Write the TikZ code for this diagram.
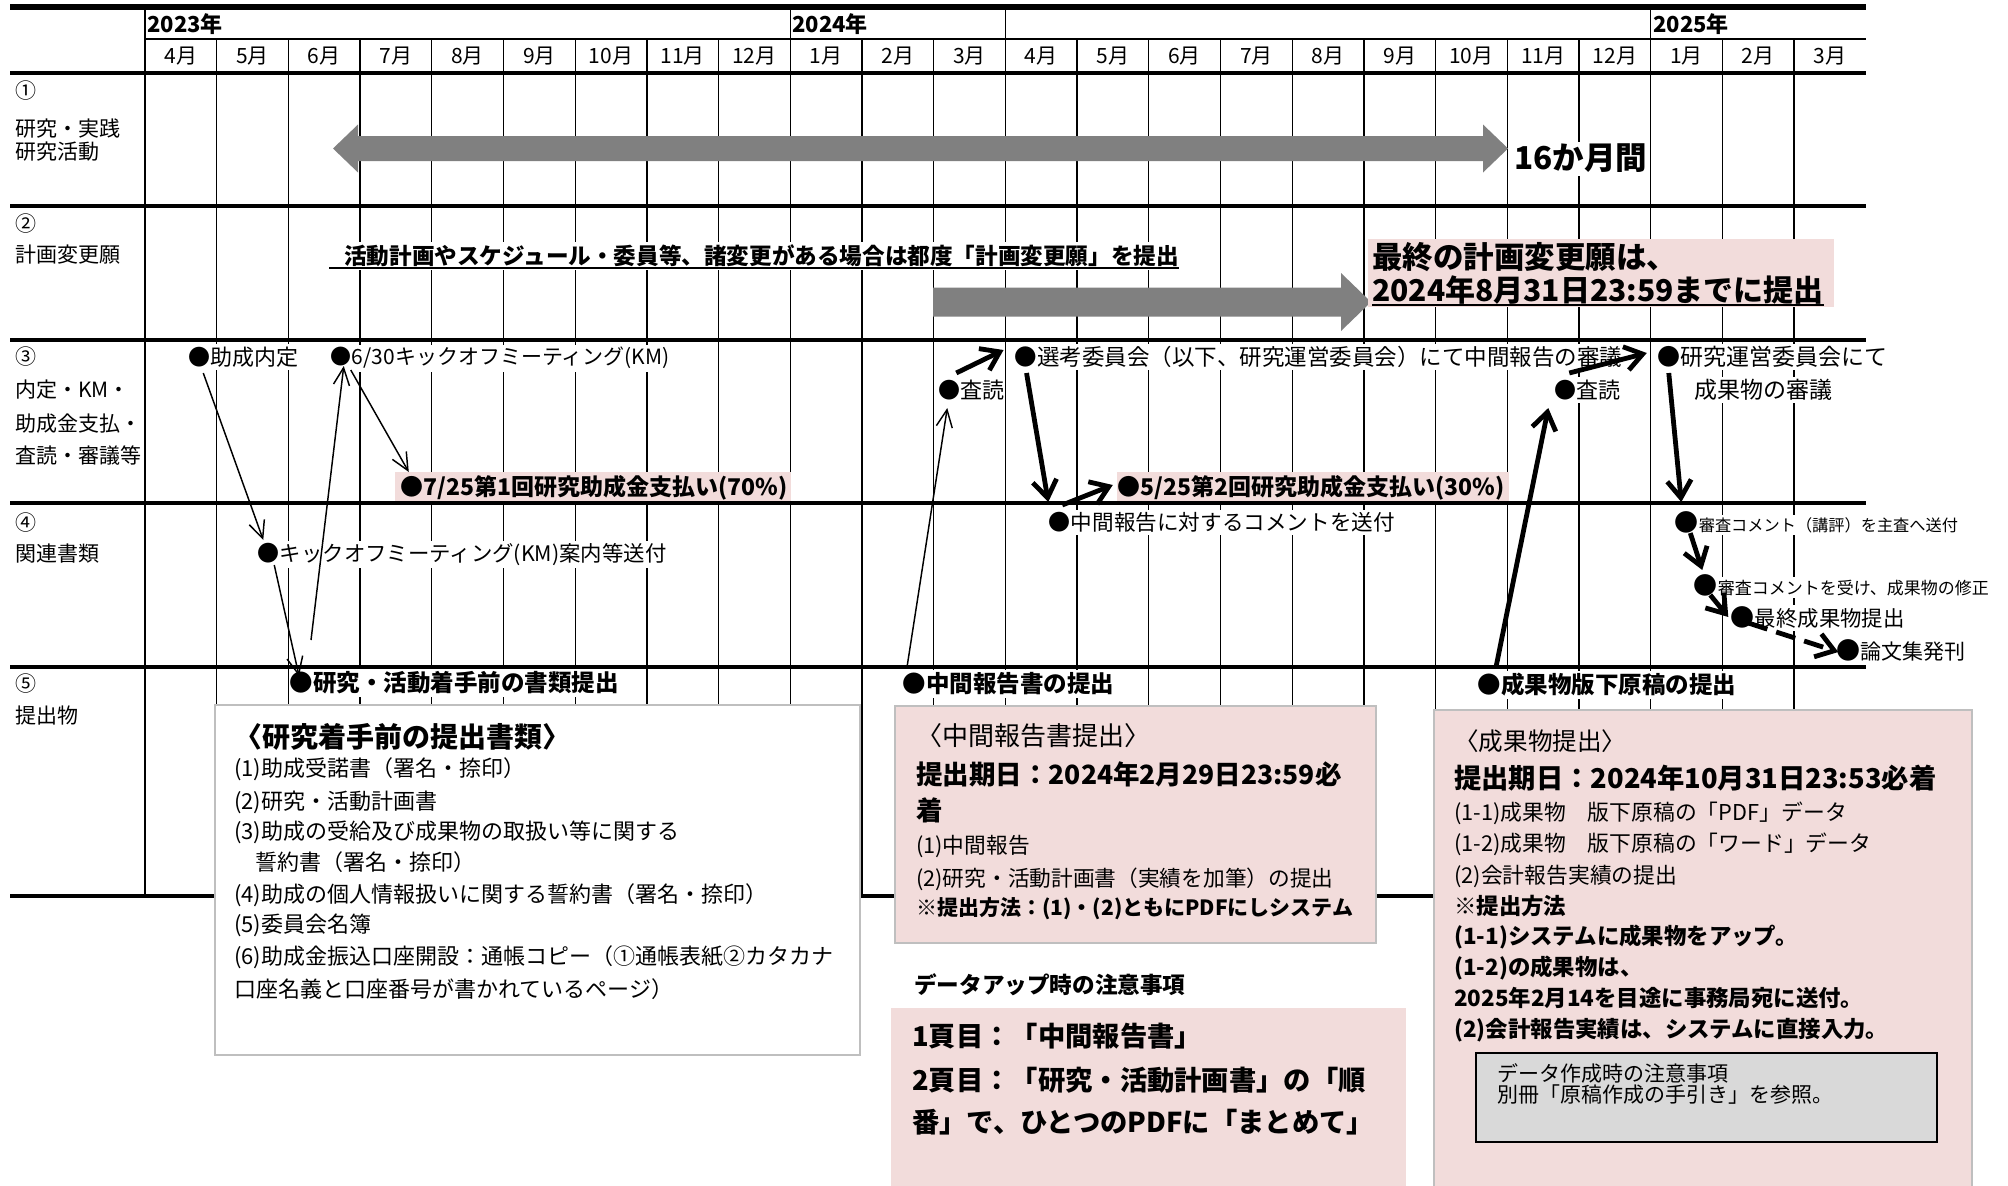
\documentclass[tikz,border=0pt]{standalone}
\usepackage{fontspec}
\setmainfont{Noto Sans CJK JP}
\usetikzlibrary{calc,arrows.meta}
\definecolor{pinkbg}{HTML}{F2DCDB}
\definecolor{boxgray}{HTML}{BFBFBF}
\definecolor{arrgray}{HTML}{808080}
\definecolor{notegray}{HTML}{D9D9D9}
\newcommand\fsz[1]{\fontsize{\fpeval{#1*0.75}}{\fpeval{#1*0.9}}\selectfont}
\tikzset{
 tn/.style={inner sep=0pt, anchor=base west},
 wf/.style={fill=white, inner ysep=2pt},
 thinarr/.style={line width=1.1pt, -{Straight Barb[length=13pt,width=12pt]}},
 thickarr/.style={line width=3.6pt, -{Straight Barb[length=13pt,width=18pt]}},
 rowline/.style={line width=3pt},
 colline/.style={line width=1pt},
}
\newcommand\tx[6][]{\node[tn,#1] (#2) at (#3,{#4+0.38*#5}) {\fsz{#5}#6};}
\newcommand\bul[7][]{%
 \node[tn,#1] (d#2) at (#3,{#4+0.38*#5}) {\fsz{#5}●};
 \node[tn,#1] (t#2) at (d#2.base east) {\fsz{#6}#7};}
\begin{document}
\begin{tikzpicture}[x=0.75pt,y=-0.75pt]
\clip (0,0) rectangle (2008,1185);
\fill[white] (0,0) rectangle (2008,1185);
% grid
\foreach \i in {1,...,8,10,11,13,14,...,20,22,23}
  \draw[colline] ({145+71.7*\i},39) -- ({145+71.7*\i},896);
\foreach \i in {0,9,12,21}
  \draw[colline] ({145+71.7*\i},7) -- ({145+71.7*\i},896);
\draw[line width=4.5pt] (10,7) -- (1866,7);
\draw[line width=0.9pt] (145,39) -- (1866,39);
\draw[line width=3.6pt] (10,73) -- (1866,73);
\foreach \yy in {206,340,503,667,896}
  \draw[rowline] (10,\yy) -- (1866,\yy);
% header
\tx[font=\bfseries]{y23}{147}{24}{22}{2023年}
\tx[font=\bfseries]{y24}{792}{24}{22}{2024年}
\tx[font=\bfseries]{y25}{1653}{24}{22}{2025年}
\foreach \m [count=\i from 0] in {4,5,6,7,8,9,10,11,12,1,2,3,4,5,6,7,8,9,10,11,12,1,2,3}
  \node[inner sep=0pt,anchor=base] (m\i) at ({145+71.7*(\i+0.5)},{56+0.38*21}) {\fsz{21}\m 月};
% row labels
\tx{l1a}{15}{91}{21}{①}
\tx{l1b}{15}{129}{21}{研究・実践}
\tx{l1c}{15}{152}{21}{研究活動}
\tx{l2a}{15}{224}{21}{②}
\tx{l2b}{15}{255}{21}{計画変更願}
\tx{l3a}{15}{357}{21}{③}
\tx{l3b}{15}{390}{21}{内定・KM・}
\tx{l3c}{15}{424}{21}{助成金支払・}
\tx{l3d}{15}{456}{21}{査読・審議等}
\tx{l4a}{15}{523}{21}{④}
\tx{l4b}{15}{554}{21}{関連書類}
\tx{l5a}{15}{684}{21}{⑤}
\tx{l5b}{15}{716}{21}{提出物}
% row 1
\fill[arrgray] (333,148.5) -- (358,124.5) -- (358,136) -- (1483,136) -- (1483,124.5) -- (1508,148.5) -- (1483,172.5) -- (1483,161) -- (358,161) -- (358,172.5) -- cycle;
\tx[font=\bfseries,wf]{r1}{1514}{158}{31.5}{16か月間}
% row 2
\fill[arrgray] (933,287.5) -- (1341,287.5) -- (1341,273) -- (1371,302) -- (1341,331) -- (1341,316.5) -- (933,316.5) -- cycle;
\tx[font=\bfseries,wf]{r2}{344}{256}{22.6}{活動計画やスケジュール・委員等、諸変更がある場合は都度「計画変更願」を提出}
\draw[line width=1.4pt] ($(r2.base west)+(-15,3)$) -- ($(r2.base east)+(0,3)$);
\fill[pinkbg] (1368,239) rectangle (1834,307);
\tx[font=\bfseries]{f1}{1372}{257}{30.5}{最終の計画変更願は、}
\tx[font=\bfseries]{f2}{1372}{290}{30}{2024年8月31日23:59までに提出}
\draw[line width=1.6pt] ($(f2.base west)+(0,4)$) -- ($(f2.base east)+(0,4)$);
% row 3
\bul[wf]{naitei}{188}{357}{22}{22}{助成内定}
\bul[wf]{km}{330}{357}{21}{21}{6/30キックオフミーティング(KM)}
\fill[pinkbg] (395,472) rectangle (791,501);
\bul[font=\bfseries]{pay1}{400}{487}{23}{23}{7/25第1回研究助成金支払い(70\%)}
\bul[wf]{sa1}{938}{390}{22}{22}{査読}
\bul[wf]{senkou}{1014}{357}{22.5}{22.5}{選考委員会（以下、研究運営委員会）にて中間報告の審議}
\fill[pinkbg] (1117,472) rectangle (1509,501);
\bul[font=\bfseries]{pay2}{1117}{487}{23}{23}{5/25第2回研究助成金支払い(30\%)}
\bul[wf]{sa2}{1554}{390}{22}{22}{査読}
\bul[wf]{unei}{1657}{357}{23}{23}{研究運営委員会にて}
\tx[wf]{unei2}{1694}{390}{23}{成果物の審議}
% row 4
\bul[wf]{kman}{257}{553}{22}{21.4}{キックオフミーティング(KM)案内等送付}
\bul[wf]{comment}{1048}{522}{22}{21.6}{中間報告に対するコメントを送付}
\bul[wf]{shinsa}{1674}{522}{24}{16.2}{審査コメント（講評）を主査へ送付}
\bul[wf]{shusei}{1693}{585}{24}{17}{審査コメントを受け、成果物の修正}
\bul[wf]{final}{1730}{617}{24}{21.4}{最終成果物提出}
\bul[wf]{ronbun}{1836}{650}{24}{21}{論文集発刊}
% row 5
\bul[wf,font=\bfseries]{chakushu}{289}{683}{23.5}{23.5}{研究・活動着手前の書類提出}
\bul[wf,font=\bfseries]{chukan}{902}{684}{23.5}{23.5}{中間報告書の提出}
\bul[wf,font=\bfseries]{seika}{1477}{685}{23.5}{23.5}{成果物版下原稿の提出}
% boxes
\draw[boxgray,line width=1.5pt,fill=white] (215,705) rectangle (860,1055);
\draw[boxgray,line width=1.5pt,fill=pinkbg] (895,706) rectangle (1376,943);
\fill[pinkbg] (891,1008) rectangle (1406,1190);
\draw[boxgray,line width=1.5pt,fill=pinkbg] (1434,710) rectangle (1972,1195);
\draw[black,line width=1.2pt,fill=notegray] (1476,1053) rectangle (1937,1142);
% left box
\tx[font=\bfseries]{lb0}{234}{737}{28}{〈研究着手前の提出書類〉}
\tx{lb1}{234}{768}{22}{(1)助成受諾書（署名・捺印）}
\tx{lb2}{234}{801}{22}{(2)研究・活動計画書}
\tx{lb3}{234}{831}{22}{(3)助成の受給及び成果物の取扱い等に関する}
\tx{lb4}{255}{862}{22}{誓約書（署名・捺印）}
\tx{lb5}{234}{894}{22}{(4)助成の個人情報扱いに関する誓約書（署名・捺印）}
\tx{lb6}{234}{924}{22}{(5)委員会名簿}
\tx{lb7}{234}{956}{22}{(6)助成金振込口座開設：通帳コピー（①通帳表紙②カタカナ}
\tx{lb8}{234}{989}{22}{口座名義と口座番号が書かれているページ）}
% middle box
\tx{mb0}{916}{736}{26}{〈中間報告書提出〉}
\tx[font=\bfseries]{mb1}{916}{774}{26.5}{提出期日：2024年2月29日23:59必}
\tx[font=\bfseries]{mb2}{916}{810}{26.5}{着}
\tx{mb3}{916}{845}{21.7}{(1)中間報告}
\tx{mb4}{916}{878}{21.7}{(2)研究・活動計画書（実績を加筆）の提出}
\tx[font=\bfseries]{mb5}{916}{908}{21}{※提出方法：(1)・(2)ともにPDFにしシステム}
\tx[font=\bfseries]{note1}{914}{985}{22.6}{データアップ時の注意事項}
\tx[font=\bfseries]{pb1}{912}{1036}{27.3}{1頁目：「中間報告書」}
\tx[font=\bfseries]{pb2}{912}{1080}{27.3}{2頁目：「研究・活動計画書」の「順}
\tx[font=\bfseries]{pb3}{912}{1122}{27.3}{番」で、ひとつのPDFに「まとめて」}
% right box
\tx{rb0}{1454}{741}{24.6}{〈成果物提出〉}
\tx[font=\bfseries]{rb1}{1454}{778}{27.3}{提出期日：2024年10月31日23:53必着}
\tx{rb2}{1454}{812}{21.8}{(1-1)成果物　版下原稿の「PDF」データ}
\tx{rb3}{1454}{843}{21.8}{(1-2)成果物　版下原稿の「ワード」データ}
\tx{rb4}{1454}{875}{21.8}{(2)会計報告実績の提出}
\tx[font=\bfseries]{rb5}{1454}{906}{22.4}{※提出方法}
\tx[font=\bfseries]{rb6}{1454}{936}{22.4}{(1-1)システムに成果物をアップ。}
\tx[font=\bfseries]{rb7}{1454}{967}{22.4}{(1-2)の成果物は、}
\tx[font=\bfseries]{rb8}{1454}{998}{22.4}{2025年2月14を目途に事務局宛に送付。}
\tx[font=\bfseries]{rb9}{1454}{1029}{22.4}{(2)会計報告実績は、システムに直接入力。}
\tx{gb1}{1497}{1074}{21}{データ作成時の注意事項}
\tx{gb2}{1497}{1095}{21}{別冊「原稿作成の手引き」を参照。}
% arrows
\draw[thinarr] ($(dnaitei.center)+(4,16)$) -- ($(dkman.center)+(-5,-13)$);
\draw[thinarr] ($(dkman.center)+(6,12)$) -- ($(dchakushu.center)+(-2,-7)$);
\draw[thinarr] ($(dchakushu.center)+(10,-43)$) -- ($(dkm.center)+(3,9)$);
\draw[thinarr] ($(dkm.center)+(10,13)$) -- ($(dpay1.center)+(-3,-15)$);
\draw[thinarr] ($(dchukan.center)+(-7,-17)$) -- ($(dsa1.center)+(-2,18)$);
\draw[thickarr] ($(dsa1.center)+(7,-17)$) -- ($(dsenkou.center)+(-22,-7)$);
\draw[thickarr] ($(dsenkou.center)+(1,16)$) -- ($(dcomment.center)+(-11,-20)$);
\draw[thickarr] ($(dcomment.center)+(3,-17)$) -- ($(dpay2.center)+(-16,-2)$);
\draw[thickarr] ($(dseika.center)+(7,-18)$) -- ($(dsa2.center)+(-17,18)$);
\draw[thickarr] ($(dsa2.center)+(4,-17)$) -- ($(dunei.center)+(-22,-4)$);
\draw[thickarr] ($(dunei.center)+(0,16)$) -- ($(dshinsa.center)+(-5,-20)$);
\draw[thickarr] ($(dshinsa.center)+(4,11)$) -- ($(dshusei.center)+(-3,-15)$);
\draw[thickarr] ($(dshusei.center)+(5,10)$) -- ($(dfinal.center)+(-14,0)$);
\draw[thickarr,dash pattern=on 15pt off 7pt] ($(dfinal.center)+(6,6)$) -- ($(dronbun.center)+(-10,2)$);
\end{tikzpicture}
\end{document}
